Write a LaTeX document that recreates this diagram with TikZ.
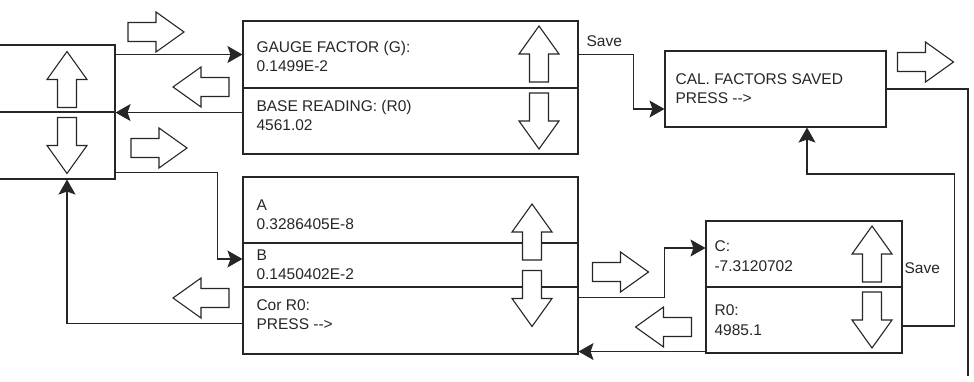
\documentclass[tikz,border=0pt]{standalone}
\usepackage{fontspec}
\setmainfont{Liberation Sans}[Ligatures=TeXOff]
\usetikzlibrary{arrows.meta,calc}

\tikzset{
  >={Stealth[length=15pt,width=17pt,inset=3pt]},
  panel/.style={draw,rectangle,inner sep=0pt},
  txt/.style={anchor=base west,align=left,inner sep=0pt,font=\fontsize{15.5}{19.3}\selectfont},
  pics/bigarrow/.style={code={
    \draw[fill=white] (-28,-9.5) -- (0,-9.5) -- (0,-20) -- (28,0) -- (0,20) -- (0,9.5) -- (-28,9.5) -- cycle;}}
}

\begin{document}
\begin{tikzpicture}[x=1pt,y=-1pt,line width=1.1pt,color=black!85]
\useasboundingbox (0,0) rectangle (974,382);

% left selector
\node[panel,minimum width=120pt,minimum height=67pt] (selUp) at (55,78.5) {};
\node[panel,minimum width=120pt,minimum height=67pt] (selDn) at (55,145.5) {};
\draw[line width=1.7pt] (selUp.south west) -- (selUp.south east);

% gauge panel
\node[panel,minimum width=335pt,minimum height=67pt] (gG) at (410.5,54.5) {};
\node[panel,minimum width=335pt,minimum height=66pt] (gR) at (410.5,121) {};
\node[txt] (gGtxt) at (256,71.7) {GAUGE FACTOR (G):\\0.1499E-2};
\node[txt] (gRtxt) at (256,130.7) {BASE READING: (R0)\\4561.02};

% saved panel
\node[panel,minimum width=221pt,minimum height=76pt] (saved) at (775.5,89) {};
\node[txt] (savedtxt) at (675,104) {CAL. FACTORS SAVED\\PRESS -->};

% coefficient panel
\node[panel,minimum width=335pt,minimum height=66pt] (cA) at (410.5,210) {};
\node[panel,minimum width=335pt,minimum height=44pt] (cB) at (410.5,265) {};
\node[panel,minimum width=335pt,minimum height=67pt] (cR) at (410.5,320.5) {};
\draw[line width=1.7pt] (cA.south west) -- (cA.south east);
\node[txt] (cAtxt) at (256,229.5) {A\\0.3286405E-8};
\node[txt] (cBtxt) at (256,279.5) {B\\0.1450402E-2};
\node[txt] (cRtxt) at (256,329.3) {Cor R0:\\PRESS -->};

% C / R0 panel
\node[panel,minimum width=196pt,minimum height=66pt] (cC) at (804,254) {};
\node[panel,minimum width=196pt,minimum height=66pt] (cR0) at (804,320) {};
\node[txt] (cCtxt) at (714,271) {C:\\-7.3120702};
\node[txt] (cR0txt) at (714,335) {R0:\\4985.1};

% labels
\node[txt] (save1) at (586,46.5) {Save};
\node[txt] (save2) at (904,273) {Save};

% connectors
\draw[->] (selUp.east |- gG.west) -- (gG.west);
\draw[->] (gR.west |- selUp.south east) -- (selUp.south east);
\draw[->] ([yshift=7pt]selDn.south east) -- ++(102,0) |- ([yshift=6pt]cB.west);
\draw[->] ([yshift=-3pt]cR.west) -| ([xshift=12pt]selDn.south);
\draw[->] (gG.east) -- ++(55,0) |- ([yshift=-20pt]saved.west);
\coordinate (exit) at (968,376);
\draw (saved.east) -| (exit);
\draw[->] ([yshift=-11pt]cR.north east) -- ++(86,0) |- ([yshift=6pt]cC.west);
\coordinate (r0out) at ([yshift=2pt]cR0.south west);
\draw[->] (r0out) -- (r0out -| cR.east);
\draw[->] ([yshift=-6pt]cR0.east) -- ++(52,0) -- ++(0,-152) -| ([xshift=31.5pt]saved.south);

% block arrows
\pic[rotate=90] at (67,79.5) {bigarrow};
\pic[rotate=-90] at (67,145.5) {bigarrow};
\pic at (156,32) {bigarrow};
\pic[rotate=180] at (201,87) {bigarrow};
\pic at (159,148) {bigarrow};
\pic[rotate=180] at (201,298) {bigarrow};
\pic[rotate=90] at (539,54) {bigarrow};
\pic[rotate=-90] at (539,121) {bigarrow};
\pic[rotate=90] at (532,232) {bigarrow};
\pic[rotate=-90] at (532,298.5) {bigarrow};
\pic[rotate=90] at (872,254) {bigarrow};
\pic[rotate=-90] at (872,320) {bigarrow};
\pic at (620.5,272) {bigarrow};
\pic[rotate=180] at (663.5,327) {bigarrow};
\pic at (925.5,62) {bigarrow};
\end{tikzpicture}
\end{document}
